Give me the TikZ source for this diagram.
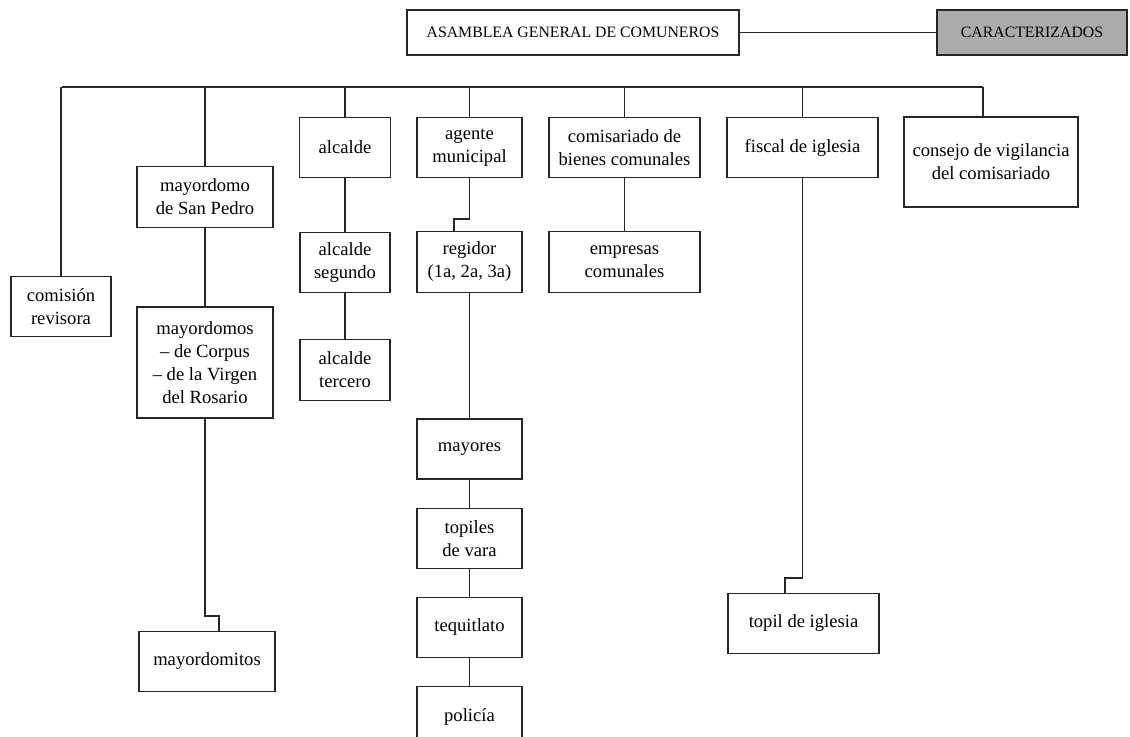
\documentclass[tikz,border=0pt]{standalone}
\usepackage{fontspec}
\setmainfont{Liberation Serif}
\usetikzlibrary{positioning}

\begin{document}
\begin{tikzpicture}[x=0.5pt, y=-0.5pt,
  office/.style={draw=black!85, line width=0.6pt, align=center, inner sep=0pt,
    minimum height=30.25pt, font=\fontsize{9.3}{11.5}\selectfont},
  head/.style={office, minimum height=22.5pt, font=\fontsize{7.9}{9}\selectfont},
  link/.style={draw=black!85, line width=0.6pt}]
  \useasboundingbox (0,0) rectangle (1130,737);
  \node[head, minimum width=166pt] (asamblea) at (573,32.5) {ASAMBLEA GENERAL DE COMUNEROS};
  \node[head, minimum width=95pt, fill=black!33] (caract) at (1032,32.5) {CARACTERIZADOS};
  \node[office, minimum width=50pt] (comision) at (61,306.5) {comisión\\revisora};
  \node[office, minimum width=68pt] (sanpedro) at (205,197) {mayordomo\\de San Pedro};
  \node[office, minimum width=68pt, minimum height=55.5pt] (mayordomos) at (205,362.5)
    {mayordomos\\– de Corpus\\– de la Virgen\\del Rosario};
  \node[office, minimum width=68pt] (mayordomitos) at (207,661.5) {mayordomitos};
  \node[office, minimum width=45.5pt] (alcalde) at (345,147.5) {alcalde};
  \node[office, minimum width=45pt] (alcalde2) at (345,262.5) {alcalde\\segundo};
  \node[office, minimum width=45pt] (alcalde3) at (345,370) {alcalde\\tercero};
  \node[office, minimum width=52.5pt] (agente) at (469.5,147.5) {agente\\municipal};
  \node[office, minimum width=52.5pt] (regidor) at (469.5,262) {regidor\\(1a, 2a, 3a)};
  \node[office, minimum width=52.5pt, minimum height=30pt] (mayores) at (469.5,449) {mayores};
  \node[office, minimum width=52.5pt, minimum height=30pt, below=14pt of mayores] (topiles) {topiles\\de vara};
  \node[office, minimum width=52.5pt, minimum height=30pt, below=14pt of topiles] (tequitlato) {tequitlato};
  \node[office, minimum width=52.5pt, minimum height=30pt, below=14pt of tequitlato] (policia) {policía};
  \node[office, minimum width=75.5pt] (comisariado) at (624.5,147.5) {comisariado de\\bienes comunales};
  \node[office, minimum width=75.5pt] (empresas) at (624.5,262) {empresas\\comunales};
  \node[office, minimum width=75.5pt] (fiscal) at (802.5,147.5) {fiscal de iglesia};
  \node[office, minimum width=75.5pt] (topil) at (803.5,623.5) {topil de iglesia};
  \node[office, minimum width=87pt, minimum height=45pt] (consejo) at (991,162)
    {consejo de vigilancia\\del comisariado};

  \coordinate (busL) at (62,87);
  \coordinate (busR) at (983,87);
  \coordinate (k1) at (219,616);
  \coordinate (k2) at (454,219);
  \coordinate (k3) at (785,578);

  \draw[link] (asamblea) -- (caract);
  \draw[link] (busL) -- (busR);
  \draw[link] (busR) -- (busR |- consejo.north);
  \foreach \n in {comision, sanpedro, alcalde, agente, comisariado, fiscal}
    \draw[link] (\n.north) -- (\n.north |- busL);
  \path[link]
    (sanpedro) edge (mayordomos)
    (alcalde) edge (alcalde2)
    (alcalde2) edge (alcalde3)
    (regidor) edge (mayores)
    (mayores) edge (topiles)
    (topiles) edge (tequitlato)
    (tequitlato) edge (policia)
    (comisariado) edge (empresas);
  \draw[link] (mayordomos.south) |- (k1) -- (k1 |- mayordomitos.north);
  \draw[link] (agente.south) |- (k2) -- (k2 |- regidor.north);
  \draw[link] (fiscal.south) |- (k3) -- (k3 |- topil.north);
\end{tikzpicture}
\end{document}
